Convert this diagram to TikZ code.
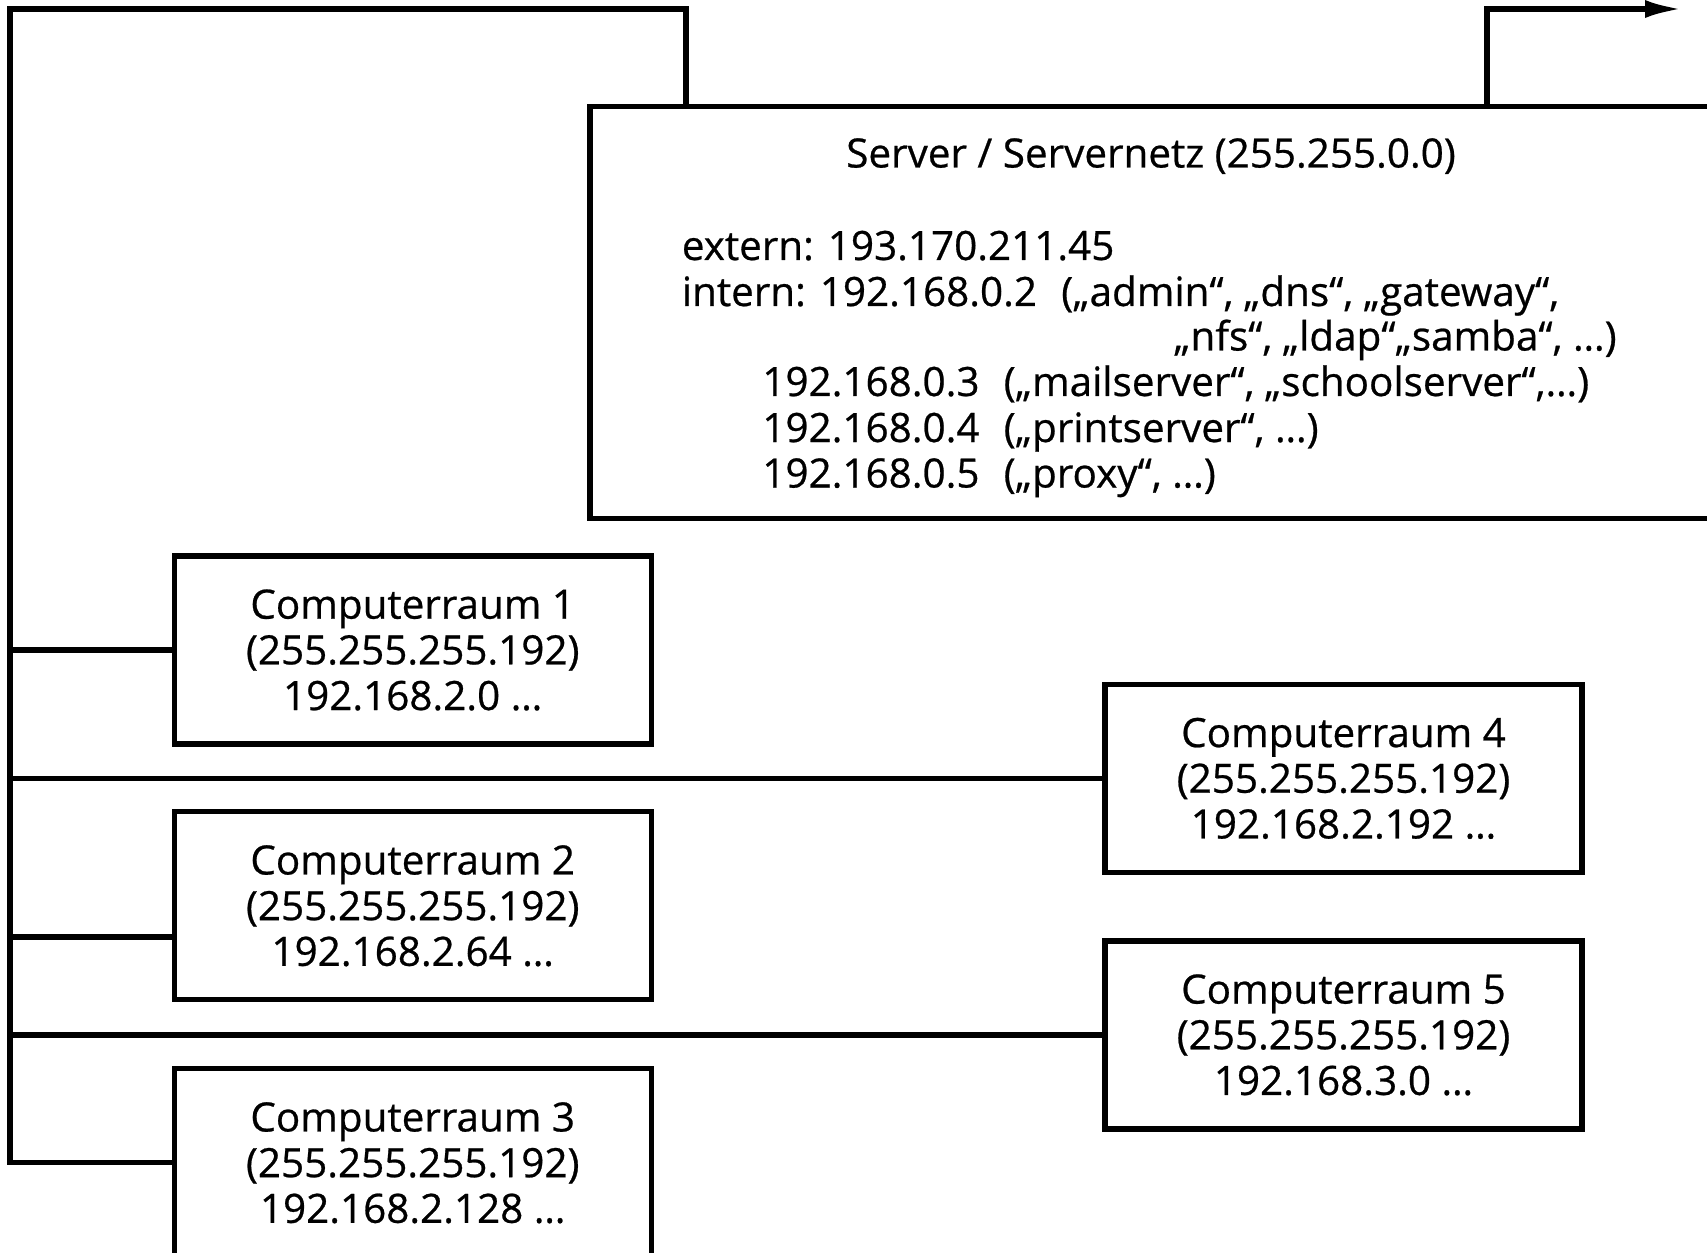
\documentclass[tikz,border=0pt]{standalone}
\usepackage{fontspec}
\setmainfont{Open Sans}[FakeBold=0.6]
\usetikzlibrary{arrows.meta,positioning}

\tikzset{
  wire/.style={line width=3pt},
  room/.style={draw, wire, minimum width=9.54cm, minimum height=3.76cm, inner sep=0pt, align=center},
  srvline/.style={anchor=base west, inner sep=0pt},
}

\begin{document}
\begin{tikzpicture}[x=0.02cm,y=-0.02cm,font=\fontsize{23pt}{26pt}\selectfont]
    \useasboundingbox (0,0) rectangle (1707,1253);
    \clip (0,0) rectangle (1707,1253);

    % Server box
    \node[draw,wire,minimum width=23cm,minimum height=8.24cm,inner sep=0pt] (srv) at (1165,312.5) {};
    \node[anchor=base,inner sep=0pt] (srvtitle) at (1151,167.5) {Server / Servernetz (255.255.0.0)};
    \node[srvline] (ipext) at (681.5,260) {extern: 193.170.211.45};
    \node[srvline] (ip2) at (681.5,306) {intern: 192.168.0.2\hspace{0.6em}(„admin“, „dns“, „gateway“,};
    \node[anchor=base east,inner sep=0pt] (ip2b) at (1617,350.5) {„nfs“, „ldap“„samba“, …)};
    \node[srvline] (ip3) at (762,396) {192.168.0.3\hspace{0.6em}(„mailserver“, „schoolserver“,…)};
    \node[srvline] (ip4) at (762,442) {192.168.0.4\hspace{0.6em}(„printserver“, …)};
    \node[srvline] (ip5) at (762,487.5) {192.168.0.5\hspace{0.6em}(„proxy“, …)};

    % Computer rooms
    \node[room] (room1) at (412.7,650) {Computerraum 1\\(255.255.255.192)\\192.168.2.0 …};
    \node[room] (room2) at (412.7,905.8) {Computerraum 2\\(255.255.255.192)\\192.168.2.64 …};
    \node[room] (room3) at (412.7,1162.8) {Computerraum 3\\(255.255.255.192)\\192.168.2.128 …};
    \node[room] (room4) at (1343.5,778.4) {Computerraum 4\\(255.255.255.192)\\192.168.2.192 …};
    \node[room] (room5) at (1343.5,1034.9) {Computerraum 5\\(255.255.255.192)\\192.168.3.0 …};

    % Network lines
    \coordinate (corner) at (10,9);
    \coordinate (lan) at (686,9);
    \coordinate (wan) at (1487,9);
    \coordinate (ext) at (1682,9);
    \coordinate (tap2) at (10,937);
    \draw[wire] (lan |- srv.north) -- (lan) -- (corner) |- (room3.west);
    \draw[wire] (corner |- room1.west) -- (room1.west);
    \draw[wire] (corner |- room4.west) -- (room4.west);
    \draw[wire] (tap2) -- (tap2 -| room2.west);
    \draw[wire] (corner |- room5.west) -- (room5.west);
    \draw[wire,-{Latex[length=7.4mm,width=3.6mm]}] (wan |- srv.north) |- (ext);
\end{tikzpicture}
\end{document}
